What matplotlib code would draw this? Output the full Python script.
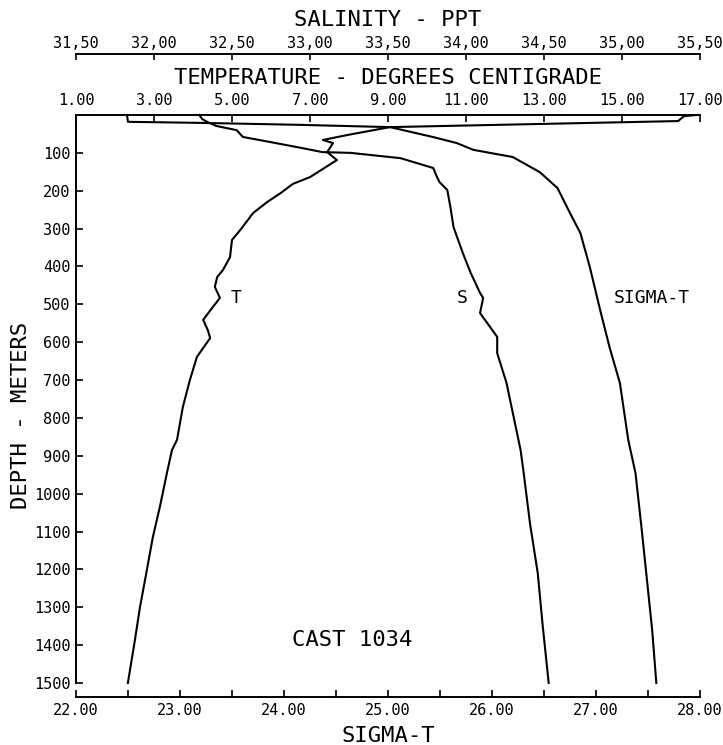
import matplotlib
matplotlib.use("Agg")
import matplotlib.pyplot as plt

# CAST 1034 profile
temp_depth = [0, 3, 16, 32, 53, 66, 74, 87, 98, 119, 164, 182, 206, 230, 259, 304, 330, 375,
              409, 428, 454, 483, 507, 541, 568, 589, 639, 700, 771, 858, 885, 946, 1035,
              1115, 1228, 1300, 1387, 1500]
temp = [16.92, 16.59, 16.44, 9.05, 7.95, 7.33, 7.59, 7.51, 7.44, 7.69, 7.00, 6.56, 6.25, 5.90,
        5.54, 5.21, 5.00, 4.95, 4.77, 4.62, 4.56, 4.69, 4.51, 4.26, 4.38, 4.44, 4.10, 3.92,
        3.74, 3.59, 3.46, 3.33, 3.15, 2.97, 2.77, 2.64, 2.51, 2.33]

sal_depth = [0, 11, 18, 29, 40, 58, 71, 85, 98, 100, 114, 140, 160, 177, 198, 243, 296, 365,
             417, 470, 483, 523, 586, 629, 708, 787, 885, 946, 1078, 1210, 1342, 1500]
sal = [32.29, 32.31, 32.34, 32.40, 32.53, 32.57, 32.74, 32.92, 33.08, 33.26, 33.58, 33.79,
       33.81, 33.83, 33.88, 33.90, 33.92, 33.98, 34.03, 34.09, 34.11, 34.09, 34.20, 34.20,
       34.26, 34.30, 34.35, 34.37, 34.41, 34.46, 34.49, 34.53]

sig_depth = [0, 18, 21, 26, 32, 58, 74, 92, 111, 151, 193, 259, 312, 401, 515, 613, 708, 858,
             946, 1096, 1228, 1360, 1500]
sigma_t = [22.49, 22.50, 23.24, 24.15, 25.02, 25.43, 25.66, 25.82, 26.20, 26.46, 26.63, 26.75,
           26.85, 26.94, 27.04, 27.13, 27.23, 27.31, 27.38, 27.44, 27.49, 27.54, 27.58]

depth_ticks = list(range(100, 1600, 100))
temp_ticks = [1, 3, 5, 7, 9, 11, 13, 15, 17]
temp_labels = ["1.00", "3.00", "5.00", "7.00", "9.00", "11.00", "13.00", "15.00", "17.00"]
sal_ticks = [31.5, 32.0, 32.5, 33.0, 33.5, 34.0, 34.5, 35.0, 35.5]
sal_labels = ["31,50", "32,00", "32,50", "33,00", "33,50", "34,00", "34,50", "35,00", "35,50"]
sig_ticks = [22, 23, 24, 25, 26, 27, 28]
sig_labels = ["22.00", "23.00", "24.00", "25.00", "26.00", "27.00", "28.00"]

plt.rcParams["font.family"] = ["DejaVu Sans Mono", "DejaVu Sans"]

W, H = 723, 745
fig = plt.figure(figsize=(W / 100, H / 100), dpi=100)
ax = fig.add_axes([76 / W, 1 - 683 / H, 624 / W, 568 / H])

lw = 1.5
px = 0.72  # points per pixel

# sigma-t / depth axes
ax.plot(sigma_t, sig_depth, color="black", lw=lw, clip_on=False)
ax.set_xlim(22, 28)
ax.set_ylim(1500, 0)
ax.spines["top"].set_visible(False)
ax.spines["right"].set_visible(False)
ax.spines["bottom"].set_position(("outward", 14 * px))
for s in ["left", "bottom"]:
    ax.spines[s].set_linewidth(1.4)
ax.set_xticks(sig_ticks)
ax.set_xticklabels(sig_labels, fontsize=11)
ax.set_xticks([22.5 + i for i in range(6)], minor=True)
ax.set_yticks(depth_ticks)
ax.set_yticklabels([str(d) for d in depth_ticks], fontsize=11)
ax.tick_params(axis="both", which="both", direction="in", length=5, width=1.2, pad=4)
ax.set_xlabel("SIGMA-T", fontsize=16, labelpad=6)
ax.set_ylabel("DEPTH - METERS", fontsize=16, va="center")
ax.yaxis.set_label_coords(-0.088, 0.472)

# temperature on the top axis
axT = ax.twiny()
axT.plot(temp, temp_depth, color="black", lw=lw, clip_on=False)
axT.set_xlim(1, 17)
for s in ["left", "right", "bottom"]:
    axT.spines[s].set_visible(False)
axT.spines["top"].set_linewidth(1.4)
axT.set_xticks(temp_ticks)
axT.set_xticklabels(temp_labels, fontsize=11)
axT.tick_params(axis="x", direction="in", length=5, width=1.2, pad=5)

# salinity axis above it
axS = ax.twiny()
axS.plot(sal, sal_depth, color="black", lw=lw, clip_on=False)
axS.set_xlim(31.5, 35.5)
for s in ["left", "right", "bottom"]:
    axS.spines[s].set_visible(False)
axS.spines["top"].set_position(("outward", 61 * px))
axS.spines["top"].set_linewidth(1.4)
axS.set_xticks(sal_ticks)
axS.set_xticklabels(sal_labels, fontsize=11)
axS.tick_params(axis="x", direction="in", length=4, width=1.2, pad=2)

# curve labels
ax.text(23.54, 483, "T", fontsize=13, ha="center", va="center")
ax.text(25.71, 483, "S", fontsize=13, ha="center", va="center")
ax.text(27.54, 483, "SIGMA-T", fontsize=13, ha="center", va="center")
ax.text(24.66, 1387, "CAST 1034", fontsize=16, ha="center", va="center")

fig.text(388 / W, 1 - 20 / H, "SALINITY - PPT", fontsize=16, ha="center", va="center")
fig.text(388 / W, 1 - 78 / H, "TEMPERATURE - DEGREES CENTIGRADE", fontsize=16,
         ha="center", va="center")

fig.savefig("out.png", dpi=100)
